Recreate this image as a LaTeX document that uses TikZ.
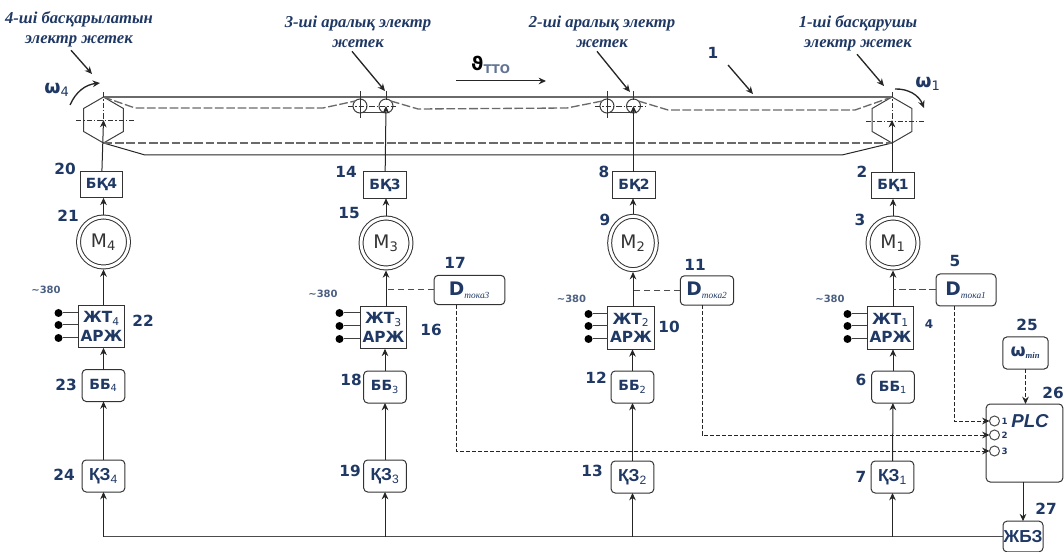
\documentclass[tikz,border=0pt]{standalone}
\usepackage{fontspec}
\setmainfont{DejaVu Sans}
\newfontfamily\serifcap{Liberation Serif}
\newfontfamily\narrowcap{Liberation Sans}
\usetikzlibrary{arrows.meta,shapes.geometric}
\definecolor{navy}{HTML}{1F3864}
\definecolor{beltgray}{HTML}{6A6A6A}
\tikzset{
  box/.style={draw=black!80, align=center, inner sep=0pt, outer sep=0pt, text=navy, font=\fontsize{10.5}{12}\selectfont\bfseries},
  drivebox/.style={box, minimum width=32pt, minimum height=20pt},
  invbox/.style={box, minimum width=35pt, minimum height=32pt, font=\fontsize{11.5}{14}\selectfont\bfseries},
  ctrlbox/.style={box, rounded corners=3pt, minimum width=32pt, minimum height=24pt},
  setbox/.style={ctrlbox, font=\narrowcap\fontsize{13}{15}\selectfont\bfseries},
  sensbox/.style={box, rounded corners=3pt, minimum height=22pt, font=\fontsize{14}{16}\selectfont\bfseries},
  motor/.style={ellipse, draw=black!80, double, double distance=2.2pt, inner sep=0pt, outer sep=1.8pt, minimum width=37.5pt, minimum height=37.5pt, text=black!80, font=\fontsize{14}{16}\selectfont},
  pulley/.style={regular polygon, regular polygon sides=6, shape border rotate=30, draw=black!75, inner sep=0pt, outer sep=0pt, minimum size=34.5pt},
  roller/.style={circle, draw=black!75, inner sep=0pt, outer sep=0pt, minimum size=10.5pt},
  wire/.style={circle, fill=black, inner sep=0pt, outer sep=0pt, minimum size=6pt},
  port/.style={circle, draw=black!70, inner sep=0pt, outer sep=0pt, minimum size=7.5pt},
  portlbl/.style={text=navy, font=\fontsize{6.5}{7}\selectfont\bfseries, inner sep=0pt, xshift=1.2pt},
  arr/.style={-{Stealth[length=5.5pt,width=5pt]}, draw=black!85},
  sig/.style={arr, dash pattern=on 3pt off 1.5pt},
  tap/.style={draw=black!70, dash pattern=on 5pt off 2.5pt},
  belt/.style={draw=beltgray, line width=1.1pt},
  beltdash/.style={draw=beltgray, line width=1pt, dash pattern=on 6.5pt off 2pt},
  axisl/.style={draw=black!80, line width=0.4pt, dash pattern=on 4pt off 1.5pt on 1pt off 1.5pt},
  num/.style={text=navy, font=\fontsize{11.5}{13}\selectfont\bfseries, inner sep=0pt},
  volt/.style={text=navy!80, font=\fontsize{7.5}{9}\selectfont\bfseries, inner sep=0pt},
  omeg/.style={text=navy, font=\fontsize{14}{16}\selectfont\bfseries, inner sep=0pt},
  caption/.style={text=navy, align=center, inner sep=0pt, font=\serifcap\fontsize{12.5}{15}\selectfont\bfseries\itshape}}
\newcommand{\lowsub}[1]{\textsubscript{\mdseries #1}}
\newcommand{\tokasub}[1]{\textsubscript{\serifcap\fontsize{7}{8}\selectfont\itshape\mdseries тока#1}}
\begin{document}
\begin{tikzpicture}[x=0.75pt, y=-0.75pt, line width=0.75pt]
  \useasboundingbox (0,0) rectangle (1064,552);
  % captions
  \node[caption] (cap4) at (79,29) {4-ші басқарылатын\\электр жетек};
  \node[caption] (cap3) at (358,32) {3-ші аралық электр\\жетек};
  \node[caption] (cap2) at (602,32) {2-ші аралық электр\\жетек};
  \node[caption] (cap1) at (858,33) {1-ші басқарушы\\электр жетек};
  % pulleys and rollers
  \node[pulley] (pul4) at (103.5,120) {};
  \node[pulley] (pul1) at (892,120) {};
  \node[roller] (rol3a) at (360,106) {};
  \node[roller] (rol3b) at (386,106) {};
  \node[roller] (rol2a) at (607,106) {};
  \node[roller] (rol2b) at (633.5,106) {};
  % belt
  \coordinate (lowl) at (145,155);
  \coordinate (lowr) at (842,155);
  \draw[belt] (pul4.north) -- (pul1.north);
  \draw[draw=black!85] (pul4.south) -- (lowl) -- (lowr) -- (pul1.south);
  \draw[beltdash] (pul4.south) -- (pul1.south);
  \draw[beltdash] (pul4.north) -- (135,108) -- (323,108) -- (rol3a.north west);
  \draw[beltdash] (rol3b.north east) -- (418,109) -- (567,108) -- (rol2a.north west);
  \draw[beltdash] (rol2b.north east) -- (668,110) -- (855,110) -- (pul1.north);
  \draw[draw=black!75] (rol3a.south) -- (rol3b.south);
  \draw[draw=black!75] (rol2a.south) -- (rol2b.south);
  % axis lines
  \draw[axisl] (76,120) -- (134,120);
  \draw[axisl] (103.5,92) -- (103.5,120);
  \draw[axisl] (866,121) -- (924,121);
  \draw[axisl] (892,92) -- (892,120);
  \draw[axisl] (348,106) -- (398,106);
  \draw[axisl] (595,106) -- (646,106);
  \draw[draw=black!80, line width=0.4pt] (360,91) -- (360,118) (386,91) -- (386,100);
  \draw[draw=black!80, line width=0.4pt] (607,91) -- (607,118) (633.5,91) -- (633.5,100);
  % pointers
  \draw[arr, line width=1pt] (cap4.south) ++(-8,3) -- (92,74);
  \draw[arr, line width=1pt] (cap3.south) ++(-6,3) -- (385,91);
  \draw[arr, line width=1pt] (cap2.south) ++(-5,3) -- (630,92);
  \draw[arr, line width=1pt] (cap1.south) ++(-1,3) -- (884,86);
  \coordinate (pt1) at (728,65);
  \draw[arr, line width=1pt] (pt1) -- (753,94);
  \node[num] (n1) at (713,53) {1};
  \node[text=black, font=\fontsize{14}{16}\selectfont\bfseries, inner sep=0pt] (vel) at (491,65) {ϑ\textsubscript{\fontsize{9}{9}\selectfont\color{navy!70}ТТО}};
  \coordinate (vels) at (456,81);
  \coordinate (vele) at (546,81);
  \draw[arr] (vels) -- (vele);
  \node[omeg] (om4) at (57,90) {ω\lowsub{4}};
  \node[omeg] (om1) at (928,84) {ω\lowsub{1}};
  \coordinate (rot4s) at (70,105);
  \coordinate (rot4e) at (100,83);
  \coordinate (rot1s) at (895,89);
  \coordinate (rot1e) at (924,108);
  \draw[arr, line width=1pt] (rot4s) to[bend left=30] (rot4e);
  \draw[arr, line width=1pt] (rot1s) to[bend left=35] (rot1e);
  % column 4
  \node[drivebox] (bk4) at (101.5,184.5) {БҚ4};
  \node[motor] (mot4) at (103.5,242) {М\lowsub{4}};
  \node[invbox] (zht4) at (101.5,326.5) {ЖТ\lowsub{4}\\АРЖ};
  \node[ctrlbox] (bb4) at (103.5,385.5) {ББ\lowsub{4}};
  \node[setbox] (kz4) at (103.5,476) {ҚЗ\lowsub{4}};
  % column 3
  \node[drivebox] (bk3) at (385,185) {БҚ3};
  \node[motor] (mot3) at (386,243) {М\lowsub{3}};
  \node[invbox] (zht3) at (383.5,327.5) {ЖТ\lowsub{3}\\АРЖ};
  \node[ctrlbox] (bb3) at (385,387) {ББ\lowsub{3}};
  \node[setbox] (kz3) at (385,476) {ҚЗ\lowsub{3}};
  \node[sensbox, minimum width=53pt] (dt3) at (469.5,290) {D\tokasub{3}};
  % column 2
  \node[drivebox] (bk2) at (634,185) {БҚ2};
  \node[motor, minimum width=35pt, minimum height=40pt] (mot2) at (633,243) {М\lowsub{2}};
  \node[invbox] (zht2) at (631,328) {ЖТ\lowsub{2}\\АРЖ};
  \node[ctrlbox] (bb2) at (632.5,387) {ББ\lowsub{2}};
  \node[setbox] (kz2) at (632.5,477) {ҚЗ\lowsub{2}};
  \node[sensbox, minimum width=40pt] (dt2) at (707,290.5) {D\tokasub{2}};
  % column 1
  \node[drivebox] (bk1) at (893,185.5) {БҚ1};
  \node[motor] (mot1) at (893,243) {М\lowsub{1}};
  \node[invbox] (zht1) at (890.5,328) {ЖТ\lowsub{1}\\АРЖ};
  \node[ctrlbox] (bb1) at (893,387) {ББ\lowsub{1}};
  \node[setbox] (kz1) at (892.5,477) {ҚЗ\lowsub{1}};
  \node[sensbox, minimum width=45pt, minimum height=24pt] (dt1) at (966,290) {D\tokasub{1}};
  % controller
  \node[ctrlbox, minimum width=34pt, font=\fontsize{13}{15}\selectfont\bfseries] (omin) at (1025.5,353) {ω\textsubscript{\serifcap\fontsize{6.5}{7}\selectfont\itshape min}};
  \node[box, rounded corners=3pt, minimum width=57.5pt, minimum height=58.5pt] (plc) at (1024.5,443) {};
  \node[text=navy, font=\narrowcap\fontsize{14}{16}\selectfont\bfseries\itshape, inner sep=0pt] (plclbl) at (1030,421) {PLC};
  \node[port, label={[portlbl]right:1}] (port1) at (994.5,421) {};
  \node[port, label={[portlbl]right:2}] (port2) at (994.5,435) {};
  \node[port, label={[portlbl]right:3}] (port3) at (994.5,451) {};
  \node[setbox, minimum width=30pt, minimum height=23pt] (zhbz) at (1023,536.5) {ЖБЗ};
  % drive chains
  \draw[arr] (bk4) -- (pul4.center);
  \draw[arr] (bk3) -- (rol3b.center);
  \draw[arr] (bk2.north -| rol2b) -- (rol2b.center);
  \draw[arr] (bk1.north -| pul1) -- (pul1.center);
  \draw[arr] (mot4) -- (mot4 |- bk4.south);
  \draw[arr] (mot3) -- (mot3 |- bk3.south);
  \draw[arr] (mot2) -- (mot2 |- bk2.south);
  \draw[arr] (mot1) -- (mot1 |- bk1.south);
  \draw[arr] (mot4 |- zht4.north) -- (mot4);
  \draw[arr] (mot3 |- zht3.north) -- (mot3);
  \draw[arr] (mot2 |- zht2.north) -- (mot2);
  \draw[arr] (mot1 |- zht1.north) -- (mot1);
  \draw[arr] (bb4) -- (bb4 |- zht4.south);
  \draw[arr] (bb3) -- (bb3 |- zht3.south);
  \draw[arr] (bb2) -- (bb2 |- zht2.south);
  \draw[arr] (bb1) -- (bb1 |- zht1.south);
  \draw[arr] (kz4) -- (bb4);
  \draw[arr] (kz3) -- (bb3);
  \draw[arr] (kz2) -- (bb2);
  \draw[arr] (kz1) -- (bb1);
  % common bus
  \draw[draw=black!70, line width=1.3pt] (zhbz.west) -- (kz4 |- zhbz.west);
  \draw[arr] (kz4 |- zhbz.west) -- (kz4);
  \draw[arr] (kz3 |- zhbz.west) -- (kz3);
  \draw[arr] (kz2 |- zhbz.west) -- (kz2);
  \draw[arr] (kz1 |- zhbz.west) -- (kz1);
  \draw[arr] (plc.south -| zhbz.north) -- (zhbz.north);
  % supply wires
  \node[wire] (w41) at (58.5,313) {};
  \node[wire] (w42) at (58.5,325) {};
  \node[wire] (w43) at (58.5,338) {};
  \node[wire] (w31) at (339.5,313) {};
  \node[wire] (w32) at (339.5,326) {};
  \node[wire] (w33) at (339.5,339) {};
  \node[wire] (w21) at (588.5,314) {};
  \node[wire] (w22) at (588.5,326) {};
  \node[wire] (w23) at (588.5,339) {};
  \node[wire] (w11) at (847.5,314) {};
  \node[wire] (w12) at (847.5,326) {};
  \node[wire] (w13) at (847.5,339) {};
  \draw[draw=black!75] (w41) -- (w41 -| zht4.west) (w42) -- (w42 -| zht4.west) (w43) -- (w43 -| zht4.west);
  \draw[draw=black!75] (w31) -- (w31 -| zht3.west) (w32) -- (w32 -| zht3.west) (w33) -- (w33 -| zht3.west);
  \draw[draw=black!75] (w21) -- (w21 -| zht2.west) (w22) -- (w22 -| zht2.west) (w23) -- (w23 -| zht2.west);
  \draw[draw=black!75] (w11) -- (w11 -| zht1.west) (w12) -- (w12 -| zht1.west) (w13) -- (w13 -| zht1.west);
  \node[volt] (v4) at (46,290) {\textasciitilde380};
  \node[volt] (v3) at (323,294) {\textasciitilde380};
  \node[volt] (v2) at (571.5,299) {\textasciitilde380};
  \node[volt] (v1) at (830,299) {\textasciitilde380};
  % sensor lines
  \draw[tap] (dt3.west) -- (mot3 |- dt3.west);
  \draw[tap] (dt2.west) -- (mot2 |- dt2.west);
  \draw[tap] (dt1.west) -- (mot1 |- dt1.west);
  \draw[sig] ([xshift=-10pt]dt3.south) |- (port3.west);
  \draw[sig] ([xshift=-3.75pt]dt2.south) |- (port2.west);
  \draw[sig] ([xshift=-9pt]dt1.south) |- (port1.west);
  \draw[sig] (omin) -- (omin |- plc.north);
  % numbers
  \node[num] (n20) at (65,169) {20};
  \node[num] (n21) at (68,216) {21};
  \node[num] (n22) at (143,321) {22};
  \node[num] (n23) at (66,385) {23};
  \node[num] (n24) at (64,475) {24};
  \node[num] (n14) at (346,172) {14};
  \node[num] (n15) at (349,213) {15};
  \node[num] (n16) at (431,330) {16};
  \node[num] (n17) at (455,263) {17};
  \node[num] (n18) at (351,380) {18};
  \node[num] (n19) at (350,471) {19};
  \node[num] (n8) at (604,172) {8};
  \node[num] (n9) at (605,220) {9};
  \node[num] (n10) at (669,327) {10};
  \node[num] (n11) at (695,265) {11};
  \node[num] (n12) at (596,378) {12};
  \node[num] (n13) at (592,471) {13};
  \node[num] (n2) at (862,172) {2};
  \node[num] (n3) at (860,220) {3};
  \node[num, font=\fontsize{9}{11}\selectfont\bfseries] (n4) at (929,324) {4};
  \node[num] (n5) at (955,261) {5};
  \node[num] (n6) at (861,380) {6};
  \node[num] (n7) at (861,477) {7};
  \node[num] (n25) at (1027,325) {25};
  \node[num] (n26) at (1053,393) {26};
  \node[num] (n27) at (1046,509) {27};
\end{tikzpicture}
\end{document}
